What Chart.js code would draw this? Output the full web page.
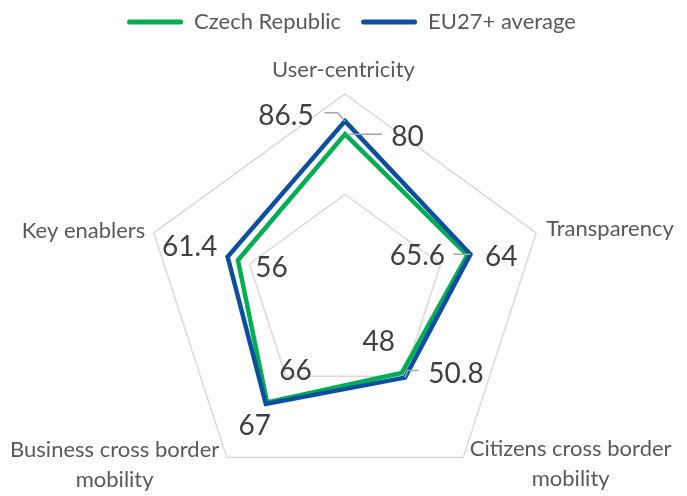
<!DOCTYPE html>
<html>
<head>
<meta charset="utf-8">
<script src="https://cdn.jsdelivr.net/npm/chart.js@4.4.1/dist/chart.umd.min.js"></script>
<style>
  html, body { margin: 0; padding: 0; background: #fff; }
  #wrap { width: 687px; height: 496px; }
</style>
</head>
<body>
<div id="wrap"><canvas id="radar" width="687" height="496"></canvas></div>
<script>
// data
const axisLabels = ['User-centricity', 'Transparency', ['Citizens cross border', 'mobility'], ['Business cross border', 'mobility'], 'Key enablers'];
const seriesNames = ['Czech Republic', 'EU27+ average'];
const czechValues = [80, 64, 48, 66, 56];
const euValues = [86.5, 65.6, 50.8, 67, 61.4];
const scaleMin = 0;
const scaleMax = 100;
const scaleStep = 50;

const FONT = 'Lato, "Open Sans", sans-serif';
const green = '#00B050';
const blue = '#0B4EA2';

// where the axis names sit, relative to the outer grid corner
const axisLabelPos = [
  { dx: -1.5, dy: -17, align: 'center' },
  { dx: 10, dy: 3, align: 'left' },
  { dx: 6.6, dy: -2, align: 'left' },
  { dx: -7.6, dy: -1, align: 'right' },
  { dx: -8.5, dy: 5, align: 'right' },
];

// value label offsets (text centre x, baseline y) and leader lines, relative to each point
const valueLabelPos = [
  [ // Czech Republic
    { dx: 62.5, dy: 12, leader: [[2, 0], [37, 0]] },
    { dx: 34, dy: 10.5 },
    { dx: -23, dy: -22 },
    { dx: 28.5, dy: -22 },
    { dx: 33.5, dy: 17 },
  ],
  [ // EU27+ average
    { dx: -59, dy: 3.5, leader: [[0, 0], [-7.5, -8.5], [-20.5, -8.5]] },
    { dx: -53, dy: 11, leader: [[0, 0], [-17, 0]] },
    { dx: 51, dy: 5, leader: [[0, 0], [2.5, -7], [13.5, -7]] },
    { dx: -11, dy: 31 },
    { dx: -38, dy: -1 },
  ],
];

const legendHeight = 94;

const layoutPlugin = {
  id: 'tallLegend',
  beforeLayout(chart) {
    const lg = chart.legend;
    if (lg && !lg._tall) {
      const fit = lg.fit;
      lg.fit = function () {
        fit.call(this);
        this.height = legendHeight;
      };
      lg._tall = true;
    }
  },
  afterLayout(chart) {
    // pull the legend row up to the top edge, nudge it right a bit
    const lg = chart.legend;
    lg.top = -9;
    lg.left += 6;
    lg.right += 6;
  },
};

const labelPlugin = {
  id: 'radarLabels',
  afterDatasetsDraw(chart) {
    const ctx = chart.ctx;
    const r = chart.scales.r;
    ctx.save();

    // axis names
    ctx.font = '22px ' + FONT;
    ctx.fillStyle = '#595959';
    ctx.textBaseline = 'alphabetic';
    ctx.textAlign = 'center';
    axisLabels.forEach((label, i) => {
      const p = r.getPointPositionForValue(i, scaleMax);
      const pos = axisLabelPos[i];
      const lines = Array.isArray(label) ? label : [label];
      const w = Math.max(...lines.map((l) => ctx.measureText(l).width));
      let left = p.x + pos.dx - w / 2;
      if (pos.align === 'left') left = p.x + pos.dx;
      if (pos.align === 'right') left = p.x + pos.dx - w;
      lines.forEach((line, j) => {
        ctx.fillText(line, left + w / 2, p.y + pos.dy + j * 30);
      });
    });

    // leader lines
    ctx.strokeStyle = '#a6a6a6';
    ctx.lineWidth = 1.5;
    chart.data.datasets.forEach((ds, di) => {
      ds.data.forEach((v, i) => {
        const pos = valueLabelPos[di][i];
        if (!pos.leader) return;
        const p = r.getPointPositionForValue(i, v);
        ctx.beginPath();
        pos.leader.forEach(([lx, ly], k) => {
          if (k === 0) ctx.moveTo(p.x + lx, p.y + ly);
          else ctx.lineTo(p.x + lx, p.y + ly);
        });
        ctx.stroke();
      });
    });

    // values
    ctx.font = '28px ' + FONT;
    ctx.fillStyle = '#404040';
    ctx.textAlign = 'center';
    chart.data.datasets.forEach((ds, di) => {
      ds.data.forEach((v, i) => {
        const pos = valueLabelPos[di][i];
        const p = r.getPointPositionForValue(i, v);
        ctx.fillText(String(v), p.x + pos.dx, p.y + pos.dy);
      });
    });

    ctx.restore();
  },
};

new Chart(document.getElementById('radar'), {
  type: 'radar',
  data: {
    labels: axisLabels,
    datasets: [
      {
        label: seriesNames[0],
        data: czechValues,
        borderColor: green,
        backgroundColor: green,
        borderWidth: 4.5,
        borderJoinStyle: 'miter',
        fill: false,
        pointRadius: 0,
        order: 2,
      },
      {
        label: seriesNames[1],
        data: euValues,
        borderColor: blue,
        backgroundColor: blue,
        borderWidth: 4.5,
        borderJoinStyle: 'miter',
        fill: false,
        pointRadius: 0,
        order: 1,
      },
    ],
  },
  options: {
    responsive: false,
    animation: false,
    layout: { padding: { left: 4, right: 0, top: 0, bottom: -6 } },
    scales: {
      r: {
        min: scaleMin,
        max: scaleMax,
        ticks: { display: false, stepSize: scaleStep },
        grid: { color: '#d9d9d9', lineWidth: 1.5 },
        angleLines: { display: false },
        pointLabels: { display: false },
      },
    },
    plugins: {
      tooltip: { enabled: false },
      legend: {
        position: 'top',
        labels: {
          color: '#595959',
          font: { family: FONT, size: 22 },
          boxWidth: 56,
          boxHeight: 5,
          useBorderRadius: true,
          borderRadius: 2.5,
          padding: 20,
          generateLabels(chart) {
            const items = Chart.defaults.plugins.legend.labels.generateLabels(chart);
            items.forEach((it) => { it.lineWidth = 0; it.fillStyle = it.strokeStyle; });
            return items.sort((a, b) => a.datasetIndex - b.datasetIndex);
          },
        },
      },
    },
  },
  plugins: [layoutPlugin, labelPlugin],
});
</script>
</body>
</html>
